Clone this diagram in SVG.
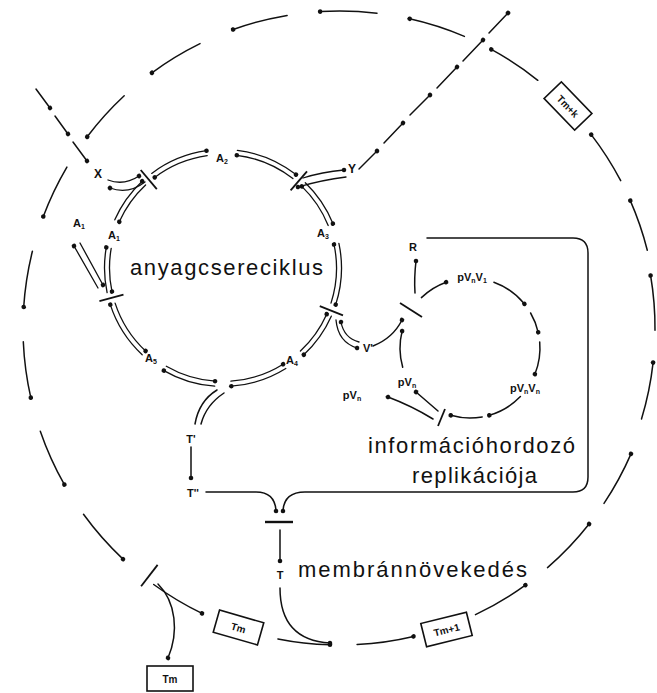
<svg xmlns="http://www.w3.org/2000/svg" width="657" height="693" viewBox="0 0 657 693">
<defs>
<marker id="dot" viewBox="-3 -3 6 6" markerWidth="6" markerHeight="6" markerUnits="userSpaceOnUse" refX="0" refY="0" orient="auto">
<circle cx="0" cy="0" r="2.3" fill="#111"/>
</marker>
<style>
.c{fill:none;stroke:#111;stroke-width:1.5;stroke-linecap:round}
.a{fill:none;stroke:#111;stroke-width:1.5;stroke-linecap:round;marker-end:url(#dot)}
.m{fill:none;stroke:#111;stroke-width:1.3;stroke-linecap:round;marker-end:url(#dot)}
.bar{fill:none;stroke:#111;stroke-width:1.8;stroke-linecap:butt}
.box{fill:#fff;stroke:#111;stroke-width:1.6}
.s{font-family:"Liberation Sans",Arial,sans-serif;font-weight:bold;font-size:11px;fill:#111;text-anchor:middle}
.sub{font-size:7px}
.big{font-family:"Liberation Sans",Arial,sans-serif;font-size:22px;fill:#111}
.t{font-family:"Liberation Sans",Arial,sans-serif;font-weight:bold;font-size:12px;fill:#111;text-anchor:middle}
</style>
</defs>
<rect width="657" height="693" fill="#fff"/>

<g id="connectors">
<path class="a" d="M377.0,13.2 A317,317 0 0 0 320.1,11.6"/>
<path class="a" d="M287.1,15.4 A317,317 0 0 0 233.1,29.5"/>
<path class="a" d="M200.0,43.6 A317,317 0 0 0 151.9,72.8"/>
<path class="a" d="M124.2,95.8 A317,317 0 0 0 87.2,136.8"/>
<path class="a" d="M66.9,167.1 A317,317 0 0 0 43.3,216.5"/>
<path class="a" d="M32.4,251.3 A317,317 0 0 0 23.7,307.0"/>
<path class="a" d="M23.3,341.8 A317,317 0 0 0 30.8,397.7"/>
<path class="a" d="M40.3,431.2 A317,317 0 0 0 64.4,484.6"/>
<path class="a" d="M83.5,514.3 A317,317 0 0 0 123.0,559.1"/>
<path class="a" d="M153.7,584.5 A317,317 0 0 0 202.0,613.4"/>
<path class="a" d="M277.9,638.9 A317,317 0 0 0 330.0,644.8"/>
<path class="a" d="M357.1,644.5 A317,317 0 0 0 413.5,636.4"/>
<path class="a" d="M475.5,614.6 A317,317 0 0 0 525.4,585.1"/>
<path class="a" d="M547.5,567.6 A317,317 0 0 0 589.1,524.0"/>
<path class="a" d="M604.0,503.4 A317,317 0 0 0 631.0,453.9"/>
<path class="a" d="M641.5,419.0 A315,315 0 0 0 653.1,362.6"/>
<path class="a" d="M655.0,330.2 A315,315 0 0 0 650.6,275.5"/>
<path class="a" d="M647.3,250.2 A317,317 0 0 0 630.3,200.6"/>
<path class="a" d="M620.7,180.7 A317,317 0 0 0 591.2,134.6"/>
<path class="a" d="M537.8,80.3 A317,317 0 0 0 491.3,49.4"/>
<path class="a" d="M464.4,36.4 A317,317 0 0 0 409.7,18.8"/>
<path class="bar" d="M157.6,564.9 L141.1,586.3"/>
<path class="a" d="M158,584 C176,602 179,632 168,658"/>

<path class="a" d="M36,89 L50,108"/>
<path class="a" d="M55,116 L68,134"/>
<path class="a" d="M73,142 L87,161"/>
<path class="a" d="M359,169 L377,151"/>
<path class="a" d="M384,143 L403,123"/>
<path class="a" d="M410,115 L430,95"/>
<path class="a" d="M437,88 L457,67"/>
<path class="a" d="M463,61 L483,40"/>
<path class="a" d="M489,33 L508,13"/>

<path class="m" d="M151.7,173.4 A118.5,118.5 0 0 1 206.5,150.7"/>
<path class="m" d="M237.4,150.4 A118.5,118.5 0 0 1 296.0,174.6"/>
<path class="m" d="M305.3,182.8 A118.5,118.5 0 0 1 332.9,223.6"/>
<path class="m" d="M338.9,243.4 A118.5,118.5 0 0 1 335.7,304.6"/>
<path class="m" d="M331.3,316.2 A118.5,118.5 0 0 1 303.8,354.7"/>
<path class="m" d="M285.8,368.5 A118.5,118.5 0 0 1 231.3,386.2"/>
<path class="m" d="M214.7,386.2 A118.5,118.5 0 0 1 163.8,370.6"/>
<path class="m" d="M142.2,354.7 A118.5,118.5 0 0 1 110.3,304.6"/>
<path class="m" d="M107.1,292.6 A118.5,118.5 0 0 1 106.3,247.4"/>
<path class="m" d="M114.8,219.8 A118.5,118.5 0 0 1 142.2,181.3"/>
<path class="m" d="M207.2,155.6 A113.5,113.5 0 0 0 154.7,177.4"/>
<path class="m" d="M292.9,178.6 A113.5,113.5 0 0 0 236.8,155.3"/>
<path class="m" d="M328.2,225.5 A113.5,113.5 0 0 0 301.8,186.4"/>
<path class="m" d="M331.0,303.1 A113.5,113.5 0 0 0 334.0,244.4"/>
<path class="m" d="M300.4,351.0 A113.5,113.5 0 0 0 326.7,314.2"/>
<path class="m" d="M230.9,381.2 A113.5,113.5 0 0 0 283.1,364.2"/>
<path class="m" d="M166.3,366.3 A113.5,113.5 0 0 0 215.1,381.2"/>
<path class="m" d="M115.1,303.1 A113.5,113.5 0 0 0 145.6,351.0"/>
<path class="m" d="M111.2,248.3 A113.5,113.5 0 0 0 112.0,291.6"/>
<path class="m" d="M145.6,185.0 A113.5,113.5 0 0 0 119.3,221.8"/>
<path class="bar" d="M156.8,189.1 L140.7,170.0"/>
<path class="bar" d="M290.6,190.3 L307.0,171.4"/>
<path class="bar" d="M319.8,306.1 L343.0,315.3"/>
<path class="bar" d="M123.5,294.7 L99.4,301.1"/>
<path class="m" d="M108,180 Q124,186 139,176"/>
<path class="m" d="M145,182 Q128,195 110,188"/>
<path class="m" d="M303,178 Q322,172 344,170"/>
<path class="m" d="M346,177 Q322,180 298,187"/>
<path class="m" d="M98,288 L74,246"/>
<path class="m" d="M80,243 L103,285"/>
<path class="m" d="M336,320 Q338,342 357,348"/>
<path class="m" d="M359,342 Q344,338 341,322"/>
<path class="c" d="M217,390 Q199,401 195,424"/>
<path class="c" d="M224,393 Q206,405 201,424"/>
<path class="a" d="M191,447 L191,478"/>

<path class="a" d="M421.4,297.6 A70,70 0 0 1 446.1,282.2"/>
<path class="a" d="M493.9,282.2 A70,70 0 0 1 524.4,303.9"/>
<path class="a" d="M530.6,313.0 A70,70 0 0 1 538.2,332.3"/>
<path class="a" d="M539.7,341.9 A70,70 0 0 1 534.9,374.2"/>
<path class="a" d="M520.4,396.6 A70,70 0 0 1 489.3,415.3"/>
<path class="a" d="M482.2,416.9 A70,70 0 0 1 450.7,415.3"/>
<path class="a" d="M402.7,367.3 A70,70 0 0 1 402.1,331.1"/>
<path class="bar" d="M400,303 L422,317"/>
<path class="bar" d="M445,409 L438,426"/>
<path class="a" d="M438,411 L416,392"/>
<path class="a" d="M433,419 Q412,406 388,397"/>
<path class="a" d="M415,293 Q414,278 416,261"/>
<path class="a" d="M373,346 Q393,338 402,320"/>
<path class="a" d="M427,238 H573 Q588,238 588,253 V477 Q588,492 573,492 H305 Q284,492 283,511"/>

<path class="a" d="M206,492 H256 Q275,492 276,511"/>
<path class="bar" d="M265,522 H293" style="stroke-width:2.4"/>
<path class="a" d="M280,530 V561"/>
<path class="a" d="M280,588 C280,622 296,641 330,643"/>
</g>

<g id="node-X"><text class="t" x="98" y="178">X</text></g>
<g id="node-Y"><text class="t" x="352" y="173">Y</text></g>
<g id="node-A2"><text class="s" x="222" y="162">A<tspan class="sub" dy="2">2</tspan></text></g>
<g id="node-A3"><text class="s" x="323" y="237">A<tspan class="sub" dy="2">3</tspan></text></g>
<g id="node-A4"><text class="s" x="292" y="364">A<tspan class="sub" dy="2">4</tspan></text></g>
<g id="node-A5"><text class="s" x="151" y="362">A<tspan class="sub" dy="2">5</tspan></text></g>
<g id="node-A1"><text class="s" x="114" y="239">A<tspan class="sub" dy="2">1</tspan></text></g>
<g id="node-A1-out"><text class="s" x="79" y="227">A<tspan class="sub" dy="2">1</tspan></text></g>
<g id="node-V"><text class="s" x="368" y="352">V'</text></g>
<g id="node-R"><text class="s" x="413" y="251">R</text></g>
<g id="node-pVnV1"><text class="s" x="472" y="281">pV<tspan class="sub" dy="2">n</tspan><tspan dy="-2">V</tspan><tspan class="sub" dy="2">1</tspan></text></g>
<g id="node-pVnVn"><text class="s" x="525" y="392">pV<tspan class="sub" dy="2">n</tspan><tspan dy="-2">V</tspan><tspan class="sub" dy="2">n</tspan></text></g>
<g id="node-pVn-in"><text class="s" x="407" y="386">pV<tspan class="sub" dy="2">n</tspan></text></g>
<g id="node-pVn-out"><text class="s" x="352" y="399">pV<tspan class="sub" dy="2">n</tspan></text></g>
<g id="node-T1"><text class="s" x="191" y="443">T'</text></g>
<g id="node-T2"><text class="s" x="193" y="497">T''</text></g>
<g id="node-T"><text class="s" x="280" y="579">T</text></g>

<g id="node-Tm-k"><g transform="translate(568,106) rotate(46)"><rect class="box" x="-22" y="-12" width="44" height="24"/><text class="s" x="0" y="4" style="font-size:10px">Tm+k</text></g></g>
<g id="node-Tm-rot"><g transform="translate(238.5,627.5) rotate(16)"><rect class="box" x="-23" y="-11.5" width="46" height="23"/><text class="s" x="0" y="4" style="font-size:10px">Tm</text></g></g>
<g id="node-Tm1"><g transform="translate(446.5,629.5) rotate(-14)"><rect class="box" x="-23.5" y="-12" width="47" height="24"/><text class="s" x="0" y="4" style="font-size:10px">Tm+1</text></g></g>
<g id="node-Tm"><rect class="box" x="147" y="666" width="46" height="25"/><text class="s" x="170" y="683" style="font-size:10px">Tm</text></g>

<g id="label-anyagcsere"><text class="big" x="130" y="275" textLength="193" lengthAdjust="spacing">anyagcsereciklus</text></g>
<g id="label-info"><text class="big" x="368" y="453" textLength="207" lengthAdjust="spacing">információhordozó</text><text class="big" x="412" y="483" textLength="125" lengthAdjust="spacing">replikációja</text></g>
<g id="label-membran"><text class="big" x="298" y="577" textLength="229" lengthAdjust="spacing">membránnövekedés</text></g>
</svg>
